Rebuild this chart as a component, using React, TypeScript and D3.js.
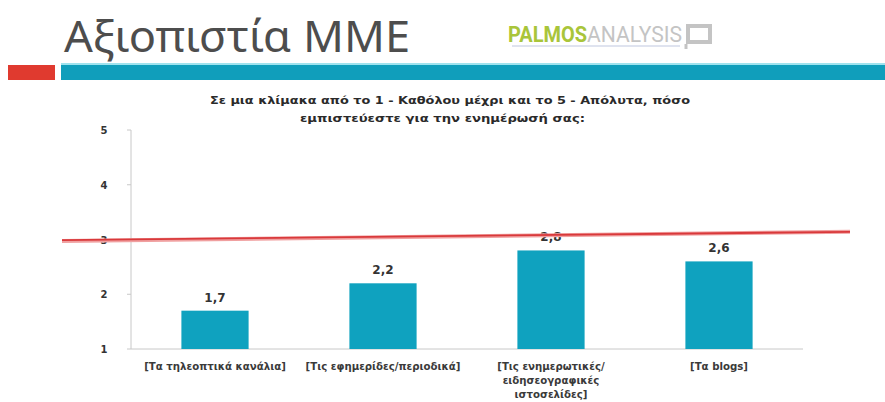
import React from "react";
import * as d3 from "d3";

const categories = [
  ["[Τα τηλεοπτικά κανάλια]"],
  ["[Τις εφημερίδες/περιοδικά]"],
  ["[Τις ενημερωτικές/", "ειδησεογραφικές", "ιστοσελίδες]"],
  ["[Τα blogs]"],
];
const values = [1.7, 2.2, 2.8, 2.6];
const valueLabels = ["1,7", "2,2", "2,8", "2,6"];
const yTicks = [1, 2, 3, 4, 5];
const titleText = "Αξιοπιστία ΜΜΕ";
const subtitleLines = [
  "Σε μια κλίμακα από το 1 - Καθόλου μέχρι και το 5 - Απόλυτα, πόσο",
  "εμπιστεύεστε για την ενημέρωσή σας:",
];
// hand-drawn reference line annotation: y values at left & right ends
const refLine = [2.99, 3.14];

export default function App() {
  const W = 885, H = 402;
  const x0 = 131, x1 = 803;
  const yTop = 130, yBot = 349;
  const x = d3.scaleBand<number>().domain(d3.range(values.length)).range([x0, x1]).paddingInner(0.6).paddingOuter(0.3);
  const y = d3.scaleLinear().domain([1, 5]).range([yBot, yTop]);
  const barColor = "#0fa2bf";
  const sans = "'DejaVu Sans', 'Open Sans', sans-serif";
  const subX = [210, 300];
  const subWidths = [480, 285];
  return (
    <svg width={W} height={H} style={{ position: "absolute", left: 0, top: 0, background: "#fff" }}>
      <text x={64} y={52} fontFamily="'Noto Sans', 'Open Sans', sans-serif" fontSize={43} fill="#4d4d4d" textLength={346} lengthAdjust="spacingAndGlyphs">{titleText}</text>
      {/* logo */}
      <text x={508} y={42} fontFamily="'Liberation Sans Narrow', 'Roboto', sans-serif" fontWeight="bold" fontSize={22} fill="#a9c53a" textLength={79} lengthAdjust="spacingAndGlyphs">PALMOS</text>
      <text x={587} y={42} fontFamily="'Liberation Sans Narrow', 'Roboto', sans-serif" fontSize={22} fill="#c4c4c4" textLength={95} lengthAdjust="spacingAndGlyphs">ANALYSIS</text>
      <rect x={688} y={26} width={22} height={16} fill="none" stroke="#c4c4c4" strokeWidth={4} />
      <line x1={686} y1={44} x2={686} y2={49} stroke="#c4c4c4" strokeWidth={3} />
      <line x1={512} y1={46} x2={680} y2={46} stroke="#dfe3ef" strokeWidth={2} />
      {/* stripes */}
      <rect x={8} y={65} width={47} height={15} fill="#e03a2f" />
      <rect x={61} y={63} width={W - 61} height={2} fill="#9fe3ee" />
      <rect x={61} y={65} width={W - 61} height={15} fill="#109ebb" />
      {/* subtitle */}
      {subtitleLines.map((l, i) => (
        <text key={i} x={subX[i]} y={104 + i * 18} fontFamily={sans} fontWeight="bold" fontSize={11.3} fill="#2a2a2a" textLength={subWidths[i]} lengthAdjust="spacingAndGlyphs">{l}</text>
      ))}
      {/* axes */}
      <line x1={x0} y1={yTop} x2={x0} y2={yBot} stroke="#c8c8c8" strokeWidth={1} />
      <line x1={x0} y1={yBot} x2={x1} y2={yBot} stroke="#c8c8c8" strokeWidth={1} />
      {yTicks.map((t) => (
        <g key={t}>
          <line x1={x0 - 4} y1={y(t)} x2={x0} y2={y(t)} stroke="#c8c8c8" />
          <text x={104} y={y(t) + 4} textAnchor="middle" fontFamily={sans} fontWeight="bold" fontSize={10} fill="#333">{t}</text>
        </g>
      ))}
      {/* bars */}
      {values.map((v, i) => (
        <g key={i}>
          <rect x={x(i)} y={y(v)} width={x.bandwidth()} height={yBot - y(v)} fill={barColor} />
          <text x={x(i)! + x.bandwidth() / 2} y={y(v) - 9} textAnchor="middle" fontFamily={sans} fontWeight="bold" fontSize={12} fill="#333">{valueLabels[i]}</text>
          {categories[i].map((c, j) => (
            <text key={j} x={x(i)! + x.bandwidth() / 2} y={370 + j * 14} textAnchor="middle" fontFamily={sans} fontWeight="bold" fontSize={10.2} fill="#3a3a3a">{c}</text>
          ))}
        </g>
      ))}
      {/* red annotation line */}
      <line x1={62} y1={y(refLine[0]) + 1} x2={850} y2={y(refLine[1])} stroke="#f0a0a0" strokeWidth={4} />
      <line x1={62} y1={y(refLine[0])} x2={850} y2={y(refLine[1])} stroke="#d9393b" strokeWidth={1.8} />
    </svg>
  );
}
